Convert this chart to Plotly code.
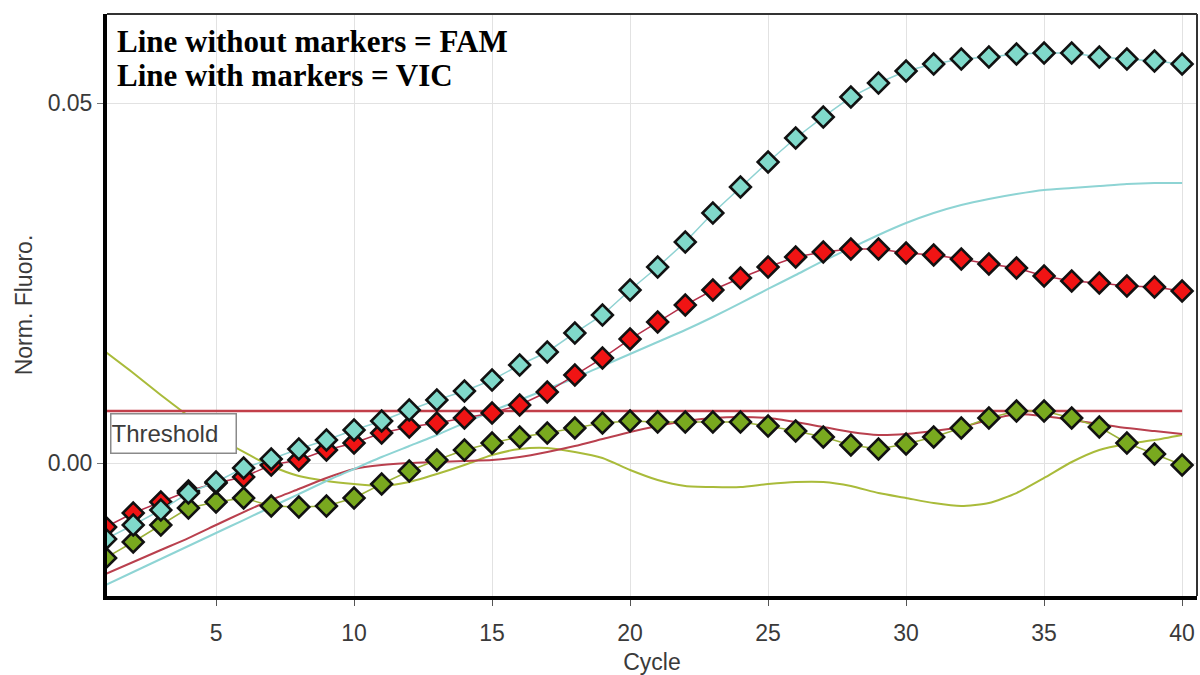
import plotly.graph_objects as go

# Amplification curves: normalised fluorescence per PCR cycle
cycles = list(range(1, 41))

# VIC channel (drawn with markers)
vic_cyan = [-0.01056, -0.00861, -0.00653, -0.00417, -0.00264, -0.00069, 0.00056, 0.00194, 0.00319, 0.00458,
            0.00583, 0.00736, 0.00875, 0.01000, 0.01153, 0.01361, 0.01542, 0.01806, 0.02056, 0.02403,
            0.02722, 0.03069, 0.03472, 0.03833, 0.04181, 0.04514, 0.04806, 0.05083, 0.05278, 0.05444,
            0.05542, 0.05611, 0.05639, 0.05681, 0.05694, 0.05694, 0.05639, 0.05611, 0.05583, 0.05542]
vic_red = [-0.00889, -0.00694, -0.00542, -0.00389, -0.00278, -0.00194, -0.00028, 0.00042, 0.00181, 0.00278,
           0.00417, 0.00500, 0.00556, 0.00625, 0.00694, 0.00806, 0.00986, 0.01222, 0.01458, 0.01722,
           0.01958, 0.02194, 0.02403, 0.02569, 0.02722, 0.02861, 0.02931, 0.02972, 0.02972, 0.02917,
           0.02889, 0.02833, 0.02764, 0.02708, 0.02597, 0.02528, 0.02500, 0.02458, 0.02444, 0.02389]
vic_green = [-0.01319, -0.01097, -0.00861, -0.00625, -0.00542, -0.00486, -0.00597, -0.00611, -0.00597, -0.00486,
             -0.00292, -0.00111, 0.00042, 0.00181, 0.00278, 0.00361, 0.00417, 0.00486, 0.00556, 0.00583,
             0.00569, 0.00569, 0.00569, 0.00569, 0.00514, 0.00444, 0.00361, 0.00250, 0.00194, 0.00264,
             0.00361, 0.00486, 0.00625, 0.00722, 0.00722, 0.00625, 0.00500, 0.00278, 0.00125, -0.00028]

# FAM channel (plain lines)
fam_cyan = [-0.01694, -0.01514, -0.01333, -0.01153, -0.00972, -0.00792, -0.00611, -0.00431, -0.00250, -0.00083,
            0.00083, 0.00236, 0.00389, 0.00556, 0.00722, 0.00875, 0.01028, 0.01181, 0.01347, 0.01514,
            0.01681, 0.01847, 0.02028, 0.02222, 0.02417, 0.02611, 0.02806, 0.02986, 0.03167, 0.03333,
            0.03472, 0.03583, 0.03667, 0.03736, 0.03792, 0.03819, 0.03847, 0.03875, 0.03889, 0.03889]
fam_red = [-0.01542, -0.01375, -0.01208, -0.01042, -0.00861, -0.00681, -0.00514, -0.00361, -0.00208, -0.00083,
           -0.00028, 0.00000, 0.00014, 0.00028, 0.00042, 0.00083, 0.00153, 0.00236, 0.00333, 0.00431,
           0.00514, 0.00583, 0.00625, 0.00639, 0.00625, 0.00569, 0.00500, 0.00431, 0.00389, 0.00403,
           0.00444, 0.00500, 0.00597, 0.00681, 0.00653, 0.00597, 0.00542, 0.00486, 0.00444, 0.00403]
fam_green = [0.01542, 0.01250, 0.00944, 0.00653, 0.00375, 0.00153, -0.00042, -0.00181, -0.00250, -0.00292,
             -0.00319, -0.00264, -0.00153, -0.00028, 0.00111, 0.00194, 0.00208, 0.00153, 0.00069, -0.00097,
             -0.00236, -0.00319, -0.00333, -0.00333, -0.00292, -0.00264, -0.00264, -0.00319, -0.00417, -0.00486,
             -0.00556, -0.00597, -0.00556, -0.00417, -0.00208, 0.00014, 0.00181, 0.00264, 0.00319, 0.00389]

threshold = 0.00722
x_ticks = [5, 10, 15, 20, 25, 30, 35, 40]
y_ticks = [0.00, 0.05]
y_ticktext = ["0.00", "0.05"]

fig = go.Figure()

# FAM curves
for ys, col in [(fam_green, "#a9bb3a"), (fam_red, "#b9404e"), (fam_cyan, "#8ed4d4")]:
    fig.add_trace(go.Scatter(x=cycles, y=ys, mode="lines",
                             line=dict(color=col, width=2, shape="spline", smoothing=0.6),
                             showlegend=False, hoverinfo="skip"))

# Threshold line
fig.add_trace(go.Scatter(x=[cycles[0], cycles[-1]], y=[threshold, threshold], mode="lines",
                         line=dict(color="#c23f4a", width=2.5), showlegend=False, hoverinfo="skip"))

# VIC curves with diamond markers
for ys, lcol, mcol in [(vic_green, "#9cb23a", "#79a91f"),
                       (vic_red, "#b5304a", "#f01414"),
                       (vic_cyan, "#8fd2d2", "#80d9ca")]:
    fig.add_trace(go.Scatter(x=cycles, y=ys, mode="lines+markers",
                             line=dict(color=lcol, width=1.5),
                             marker=dict(symbol="diamond", size=16, color=mcol,
                                         line=dict(color="#111111", width=2.6)),
                             showlegend=False, hoverinfo="skip"))

axis_font = dict(family="Liberation Sans, Arial, sans-serif", size=23, color="#3a3a3a")

fig.update_xaxes(range=[1.05, 40.54], tickvals=x_ticks, showgrid=True, gridcolor="#e2e2e2", gridwidth=1,
                 zeroline=False, showline=True, linecolor="#000000", linewidth=4,
                 ticks="outside", ticklen=6, tickcolor="#555555", tickfont=axis_font,
                 ticklabelstandoff=7,
                 title=dict(text="Cycle", font=axis_font, standoff=11))
fig.update_yaxes(range=[-0.01847, 0.06236], tickvals=y_ticks, ticktext=y_ticktext, showgrid=True,
                 gridcolor="#e2e2e2", gridwidth=1, zeroline=False, showline=True, linecolor="#000000",
                 linewidth=4, ticks="outside", ticklen=6, tickcolor="#777777", tickfont=axis_font,
                 title=dict(text="Norm. Fluoro.", font=axis_font, standoff=10))

# Top and right frame edges
fig.add_shape(type="line", xref="paper", yref="paper", x0=0, x1=1, y0=1, y1=1,
              line=dict(color="#333333", width=2))
fig.add_shape(type="line", xref="paper", yref="paper", x0=1, x1=1, y0=0, y1=1,
              line=dict(color="#333333", width=2))

serif = dict(family="Liberation Serif, Times New Roman, serif", size=31, color="#000000")
fig.add_annotation(text="<b>Line without markers = FAM</b>", xref="paper", yref="paper", x=0, y=1,
                   xanchor="left", yanchor="top", xshift=8, yshift=-8, showarrow=False, font=serif)
fig.add_annotation(text="<b>Line with markers = VIC</b>", xref="paper", yref="paper", x=0, y=1,
                   xanchor="left", yanchor="top", xshift=8, yshift=-42, showarrow=False, font=serif)

fig.add_annotation(text="Threshold", x=1.05, y=threshold, xanchor="left", yanchor="top",
                   xshift=3, yshift=-2, showarrow=False, width=124, height=38, align="left",
                   bgcolor="#ffffff", bordercolor="#8a8a8a", borderwidth=1.5, borderpad=0,
                   font=dict(family="Liberation Sans, Arial, sans-serif", size=24, color="#3c3c3c"))

fig.update_layout(width=1200, height=675, margin=dict(l=107, r=3, t=14, b=79),
                  paper_bgcolor="#ffffff", plot_bgcolor="#ffffff")

fig.write_html("out.html")
